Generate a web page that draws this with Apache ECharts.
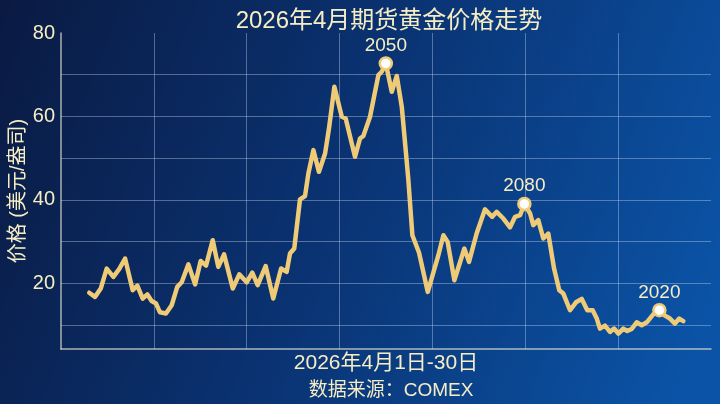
<!DOCTYPE html>
<html>
<head>
<meta charset="utf-8">
<script src="https://cdn.jsdelivr.net/npm/echarts@6/dist/echarts.min.js"></script>
<style>
html,body{margin:0;padding:0;width:720px;height:404px;overflow:hidden;}
#chart{width:720px;height:404px;}
</style>
</head>
<body>
<div id="chart"></div>
<script>
// Data (x = day position along the April axis, y = price)
const days = [1.52,1.83,2.14,2.46,2.82,3.14,3.45,3.86,4.11,4.40,4.65,4.88,5.12,5.33,5.65,5.96,6.26,6.50,6.86,7.22,7.52,7.81,8.17,8.47,8.78,9.25,9.60,10.00,10.30,10.59,11.02,11.43,11.85,12.15,12.33,12.56,12.87,13.14,13.32,13.59,13.89,14.22,14.43,14.72,15.12,15.33,15.83,16.10,16.28,16.64,17.09,17.27,17.49,17.81,18.08,18.35,18.70,18.92,19.28,19.75,20.32,20.59,20.82,21.18,21.72,21.97,22.38,22.83,23.22,23.46,23.82,24.18,24.45,24.72,24.95,25.26,25.43,25.70,25.97,26.24,26.55,26.83,27.05,27.41,27.73,28.04,28.34,28.63,28.85,29.02,29.29,29.56,29.78,30.01,30.28,30.49,30.73,31.00,31.27,31.54,31.89,32.22,32.52,32.79,33.06,33.29,33.51];
const prices = [17.7,16.7,18.7,23.5,21.5,23.4,25.9,18.3,19.4,16.3,17.3,15.7,15.1,13.0,12.7,14.7,19.1,20.2,24.5,19.7,25.3,24.2,30.3,23.9,26.9,18.7,22.1,20.2,22.5,19.5,24.1,16.3,23.5,22.7,27.1,28.3,40.1,40.9,46.3,51.9,46.7,51.1,57.1,67.1,59.9,59.5,50.3,54.7,55.3,59.9,69.9,70.7,72.7,65.9,69.7,62.3,45.0,31.5,27.3,17.9,26.7,31.5,29.9,20.7,28.3,25.1,31.9,37.7,35.9,37.1,35.5,33.4,35.9,36.3,39.0,36.7,33.9,35.1,30.7,31.9,23.5,18.3,17.5,13.5,15.4,16.2,13.5,13.5,11.5,9.1,9.8,8.3,9.1,7.9,9.1,8.5,9.0,10.6,9.9,10.6,12.5,13.5,12.2,11.5,10.3,11.5,10.9];
const peakDays = [17.49, 24.95, 32.22];
const peakPrices = [72.7, 39.0, 13.5];
const peakLabels = ['2050', '2080', '2020'];
const yTickLabels = [20, 40, 60, 80];

const FONT = "'Liberation Sans', 'Noto Sans CJK SC', sans-serif";
const TXT = '#F6EDC4';

const chart = echarts.init(document.getElementById('chart'));
chart.setOption({
  animation: false,
  backgroundColor: new echarts.graphic.LinearGradient(0, 0, 1, 0.7, [
    { offset: 0, color: '#0a1a42' },
    { offset: 0.5, color: '#0a3373' },
    { offset: 1, color: '#0b53a6' }
  ]),
  title: [
    {
      text: '2026年4月期货黄金价格走势',
      left: 384, top: 4, textAlign: 'center',
      textStyle: { color: TXT, fontSize: 24, fontWeight: 'normal', fontFamily: FONT }
    },
    {
      text: '数据来源：COMEX',
      left: 386, top: 376, textAlign: 'center',
      textStyle: { color: TXT, fontSize: 19, fontWeight: 'normal', fontFamily: FONT }
    }
  ],
  grid: { left: 61, right: 9, top: 33, bottom: 55, containLabel: false, outerBoundsMode: 'none' },
  xAxis: {
    type: 'value', min: 0, max: 35, interval: 5,
    name: '2026年4月1日-30日', nameLocation: 'middle', nameGap: 4,
    nameTextStyle: { color: TXT, fontSize: 21, fontFamily: FONT, verticalAlign: 'top' },
    axisLine: { show: true, lineStyle: { color: 'rgba(225,225,210,0.75)', width: 1.5 } },
    axisTick: { show: false },
    axisLabel: { show: false },
    splitLine: { show: true, showMinLine: false, showMaxLine: false, lineStyle: { color: 'rgba(205,220,245,0.38)', width: 1 } }
  },
  yAxis: {
    type: 'value', min: 4.2, max: 80, splitNumber: 8,
    name: '价格 (美元/盎司)', nameLocation: 'middle', nameGap: 33, nameRotate: 90,
    nameMoveOverlap: false,
    nameTextStyle: { color: TXT, fontSize: 20, fontFamily: FONT },
    axisLine: { show: true, lineStyle: { color: 'rgba(225,225,210,0.75)', width: 1.5 } },
    axisTick: { show: false },
    axisLabel: {
      color: TXT, fontSize: 20, fontFamily: FONT, margin: 6,
      formatter: v => (yTickLabels.indexOf(Math.round(v * 100) / 100) >= 0 ? String(v) : '')
    },
    splitLine: { show: true, showMinLine: false, showMaxLine: false, lineStyle: { color: 'rgba(205,220,245,0.38)', width: 1 } }
  },
  series: [
    {
      type: 'line',
      data: days.map((d, i) => [d, prices[i]]),
      symbol: 'none',
      lineStyle: { color: '#EFCB78', width: 4.5, join: 'round', cap: 'round' },
      z: 2
    },
    {
      type: 'scatter',
      data: peakDays.map((d, i) => ({ value: [d, peakPrices[i]], name: peakLabels[i] })),
      symbol: 'circle', symbolSize: 12,
      itemStyle: { color: '#ffffff', borderColor: '#EFCB78', borderWidth: 2.5, opacity: 1 },
      label: {
        show: true, position: 'top', distance: 1,
        formatter: p => p.name,
        color: TXT, fontSize: 19, fontFamily: FONT, opacity: 1
      },
      z: 3
    }
  ]
});
</script>
</body>
</html>
